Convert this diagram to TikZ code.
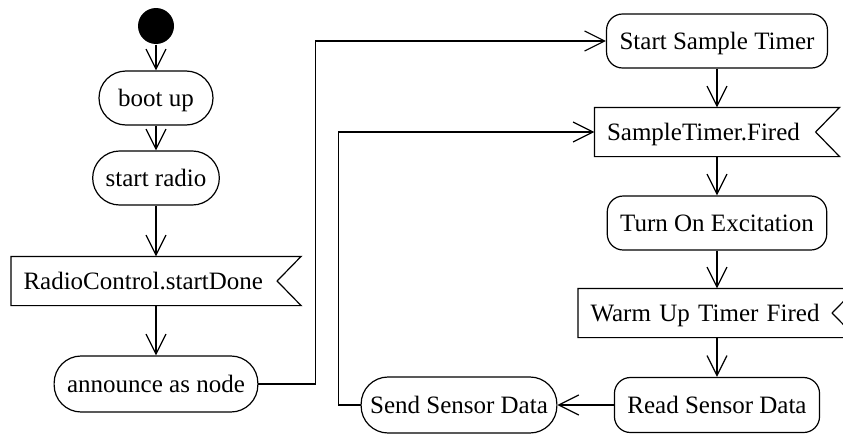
\documentclass[tikz,border=0pt]{standalone}
\usepackage{fontspec}
\setmainfont{Liberation Serif}
\usetikzlibrary{arrows.meta,calc}

\begin{document}
\begin{tikzpicture}[x=1pt, y=-1pt, line width=1.2pt,
                every node/.style={font=\fontsize{25pt}{30pt}\selectfont, text height=16pt, text depth=0pt},
                start/.style={circle, fill=black, minimum size=36pt, inner sep=0pt},
                activity/.style={rectangle, draw, rounded corners=16pt, minimum height=54pt, inner xsep=13pt},
                pill/.style={activity, rounded corners=27pt},
                signalbox/.style={rectangle, minimum height=48pt, inner xsep=12pt, text width=#1, align=left,
                    append after command={\pgfextra{\let\signode\tikzlastnode
                        \draw (\signode.north west) -- (\signode.north east) -- ([xshift=-24pt]\signode.east)
                            -- (\signode.south east) -- (\signode.south west) -- cycle;}}},
                arrow/.style={-{Straight Barb[length=20pt, width=20pt]}}]

                \useasboundingbox (0,0) rectangle (843,434);
                \clip (0,0) rectangle (843,434);

                % Startup
                \node[start] (init) at (156,26) {};
                \node[pill, minimum width=114pt] (boot) at (156,98) {boot up};
                \node[pill] (radio) at (156,178) {start radio};
                \node[signalbox=265pt] (rcdone) at (156,281) {RadioControl.startDone};
                \node[pill, minimum height=56pt] (announce) at (156,384) {announce as node};

                % Sampling loop
                \node[activity] (sst) at (717,41) {Start Sample Timer};
                \node[signalbox=220pt] (stfired) at (717,132) {SampleTimer.Fired};
                \node[activity] (excite) at (717,223) {Turn On Excitation};
                \node[signalbox=253pt] (warmup) at (717,313) {Warm Up Timer Fired};
                \node[activity, minimum height=55pt] (read) at (717,405) {Read Sensor Data};
                \node[pill, minimum height=56pt, inner xsep=9pt] (send) at (459,405) {Send Sensor Data};

                % Connections
                \draw[arrow] (init) -- (boot);
                \draw[arrow] (boot) -- (radio);
                \draw[arrow] (radio) -- (rcdone);
                \draw[arrow] (rcdone) -- (announce);
                \draw[arrow] (announce.east) -- ++(57,0) |- (sst.west);
                \draw[arrow] (sst) -- (stfired);
                \draw[arrow] (stfired) -- (excite);
                \draw[arrow] (excite) -- (warmup);
                \draw[arrow] (warmup) -- (read);
                \draw[arrow] (read) -- (send);
                \draw[arrow] (send.west) -- ++(-22,0) |- (stfired.west);

            \end{tikzpicture}
\end{document}
